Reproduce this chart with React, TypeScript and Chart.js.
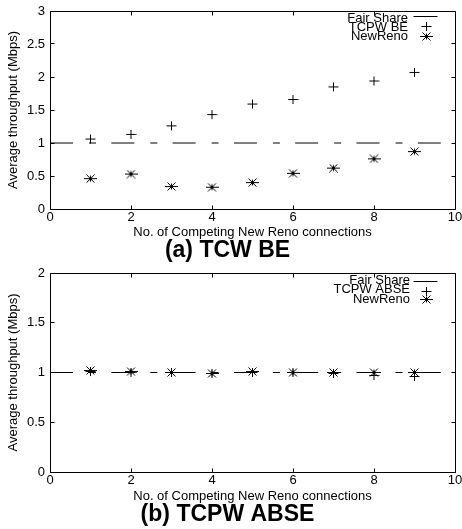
import React, { useEffect, useRef } from "react";
import { Chart, registerables } from "chart.js";

Chart.register(...registerables);

const FONT = "'Liberation Sans', Arial, Helvetica, sans-serif";

// ---- data ----
const connections = [1, 2, 3, 4, 5, 6, 7, 8, 9];
const fairShareX = [0, 10];
const fairShareY = [1, 1];
const beTcpw = [1.06, 1.13, 1.26, 1.43, 1.59, 1.66, 1.85, 1.94, 2.07];
const beNewReno = [0.46, 0.53, 0.34, 0.33, 0.4, 0.54, 0.62, 0.76, 0.87];
const abseTcpw = [1.01, 1.0, 1.0, 0.99, 1.0, 1.0, 0.99, 0.97, 0.96];
const abseNewReno = [1.02, 1.01, 1.0, 0.99, 1.01, 1.0, 1.0, 1.0, 1.0];

const xMin = 0;
const xMax = 10;
const xStep = 2;
const beYMax = 3;
const abseYMax = 2;
const yStep = 0.5;

const xTitle = "No. of Competing New Reno connections";
const yTitle = "Average throughput (Mbps)";
const beCaption = "(a) TCW BE";
const abseCaption = "(b) TCPW ABSE";
const fairLabel = "Fair Share";
const beLabel = "TCPW BE";
const abseLabel = "TCPW ABSE";
const renoLabel = "NewReno";

function makePlus(): HTMLCanvasElement {
  const c = document.createElement("canvas");
  c.width = 11;
  c.height = 11;
  const g = c.getContext("2d")!;
  g.strokeStyle = "#000";
  g.lineWidth = 1;
  g.beginPath();
  g.moveTo(0.5, 5.5);
  g.lineTo(10.5, 5.5);
  g.moveTo(5.5, 1);
  g.lineTo(5.5, 10);
  g.stroke();
  return c;
}

function makeStar(): HTMLCanvasElement {
  const c = document.createElement("canvas");
  c.width = 13;
  c.height = 9;
  const g = c.getContext("2d")!;
  g.strokeStyle = "#000";
  g.lineWidth = 1;
  g.beginPath();
  g.moveTo(0, 4.5);
  g.lineTo(13, 4.5);
  g.moveTo(2.5, 0.5);
  g.lineTo(10.5, 8.5);
  g.moveTo(2.5, 8.5);
  g.lineTo(10.5, 0.5);
  g.moveTo(6.5, 1.5);
  g.lineTo(6.5, 7.5);
  g.stroke();
  return c;
}

type PlotProps = {
  top: number;
  height: number;
  padTop: number;
  padBottom: number;
  xAxisH: number;
  yMax: number;
  tcpw: number[];
  reno: number[];
  tcpwLabel: string;
  caption: string;
  legendRight: number;
  legendBase: number[];
  legendSym: number[];
};

function Plot(p: PlotProps) {
  const ref = useRef<HTMLCanvasElement | null>(null);

  useEffect(() => {
    if (!ref.current) return;
    const plus = makePlus();
    const star = makeStar();

    const framePlugin = {
      id: "frame",
      afterDraw(chart: any) {
        const { ctx, chartArea: a, scales } = chart;
        const L = Math.floor(a.left) + 0.5;
        const R = Math.floor(a.right) + 0.5;
        const T = Math.floor(a.top) + 0.5;
        const B = Math.floor(a.bottom) + 0.5;
        ctx.save();
        ctx.strokeStyle = "#000";
        ctx.lineWidth = 1;
        ctx.beginPath();
        ctx.rect(L, T, R - L, B - T);
        const tl = 4;
        scales.x.ticks.forEach((t: any) => {
          const px = Math.floor(scales.x.getPixelForValue(t.value)) + 0.5;
          ctx.moveTo(px, B);
          ctx.lineTo(px, B - tl);
          ctx.moveTo(px, T);
          ctx.lineTo(px, T + tl);
        });
        scales.y.ticks.forEach((t: any) => {
          const py = Math.floor(scales.y.getPixelForValue(t.value)) + 0.5;
          ctx.moveTo(L, py);
          ctx.lineTo(L + tl, py);
          ctx.moveTo(R, py);
          ctx.lineTo(R - tl, py);
        });
        ctx.stroke();
        ctx.restore();
      },
    };

    const legendPlugin = {
      id: "gnuLegend",
      afterDraw(chart: any) {
        const { ctx, chartArea: a } = chart;
        const labels = [fairLabel, p.tcpwLabel, renoLabel];
        ctx.save();
        ctx.font = `13px ${FONT}`;
        ctx.fillStyle = "#000";
        ctx.textAlign = "right";
        ctx.textBaseline = "alphabetic";
        labels.forEach((txt, i) => {
          ctx.fillText(txt, p.legendRight, a.top + p.legendBase[i]);
        });
        const symX = 426;
        const y0 = Math.floor(a.top + p.legendSym[0]) + 0.5;
        ctx.strokeStyle = "#000";
        ctx.lineWidth = 1;
        ctx.beginPath();
        ctx.moveTo(413.5, y0);
        ctx.lineTo(437.5, y0);
        ctx.stroke();
        const imgs = [plus, star];
        imgs.forEach((im, k) => {
          const cy = Math.round(a.top + p.legendSym[k + 1]);
          ctx.drawImage(im, Math.round(symX - im.width / 2), Math.round(cy - im.height / 2));
        });
        ctx.restore();
      },
    };

    const chart = new Chart(ref.current, {
      type: "scatter",
      data: {
        datasets: [
          {
            label: fairLabel,
            data: fairShareX.map((x, i) => ({ x, y: fairShareY[i] })),
            showLine: true,
            borderColor: "#000",
            borderWidth: 1,
            borderDash: [23, 16, 7, 15.3],
            pointRadius: 0,
            pointHoverRadius: 0,
            fill: false,
          },
          {
            label: p.tcpwLabel,
            data: connections.map((x, i) => ({ x, y: p.tcpw[i] })),
            pointStyle: plus as any,
            pointRadius: 5,
            pointHoverRadius: 5,
            borderColor: "#000",
            backgroundColor: "#000",
          },
          {
            label: renoLabel,
            data: connections.map((x, i) => ({ x, y: p.reno[i] })),
            pointStyle: star as any,
            pointRadius: 5,
            pointHoverRadius: 5,
            borderColor: "#000",
            backgroundColor: "#000",
          },
        ],
      },
      options: {
        animation: false,
        responsive: false,
        events: [],
        layout: { padding: { top: p.padTop, left: 0, right: 7, bottom: p.padBottom } },
        plugins: {
          legend: { display: false },
          tooltip: { enabled: false },
          title: {
            display: true,
            position: "bottom",
            text: p.caption,
            color: "#000",
            padding: 0,
            font: { family: FONT, size: 23, weight: "bold", lineHeight: 1 },
          },
        },
        scales: {
          x: {
            type: "linear",
            min: xMin,
            max: xMax,
            ticks: {
              stepSize: xStep,
              color: "#000",
              padding: 1,
              maxRotation: 0,
              autoSkip: false,
              callback: (v: any) => String(Number(v)),
              font: { family: FONT, size: 13, lineHeight: 1.2 },
            },
            grid: { display: false, drawTicks: false },
            border: { display: false },
            title: {
              display: true,
              text: xTitle,
              color: "#000",
              padding: { top: 0, bottom: 1 },
              font: { family: FONT, size: 13, lineHeight: 1 },
            },
            afterFit(s: any) {
              s.height = p.xAxisH;
              s.paddingLeft = 0;
              s.paddingRight = 0;
            },
          },
          y: {
            type: "linear",
            min: 0,
            max: p.yMax,
            ticks: {
              stepSize: yStep,
              color: "#000",
              padding: 5,
              callback: (v: any) => String(Number(v)),
              font: { family: FONT, size: 13, lineHeight: 1.2 },
            },
            grid: { display: false, drawTicks: false },
            border: { display: false },
            title: {
              display: true,
              text: yTitle,
              color: "#000",
              padding: { top: 7, bottom: 0 },
              font: { family: FONT, size: 13, lineHeight: 1 },
            },
            afterFit(s: any) {
              s.width = 50;
              s.paddingTop = 0;
              s.paddingBottom = 0;
            },
          },
        },
      } as any,
      plugins: [framePlugin, legendPlugin],
    });
    return () => chart.destroy();
  }, []);

  return (
    <canvas
      ref={ref}
      width={462}
      height={p.height}
      style={{ position: "absolute", left: 0, top: p.top, width: 462, height: p.height, display: "block" }}
    />
  );
}

export default function App() {
  return (
    <div style={{ position: "absolute", left: 0, top: 0, width: 462, height: 529, background: "#fff" }}>
      <Plot
        top={0}
        height={264}
        padTop={11}
        padBottom={1.5}
        xAxisH={30.5}
        yMax={beYMax}
        tcpw={beTcpw}
        reno={beNewReno}
        tcpwLabel={beLabel}
        caption={beCaption}
        legendRight={408}
        legendBase={[10.5, 19.5, 29]}
        legendSym={[5, 14.7, 25]}
      />
      <Plot
        top={264}
        height={265}
        padTop={9}
        padBottom={2.5}
        xAxisH={31.5}
        yMax={abseYMax}
        tcpw={abseTcpw}
        reno={abseNewReno}
        tcpwLabel={abseLabel}
        caption={abseCaption}
        legendRight={410}
        legendBase={[10.5, 20, 30]}
        legendSym={[8, 17.7, 26.3]}
      />
    </div>
  );
}
